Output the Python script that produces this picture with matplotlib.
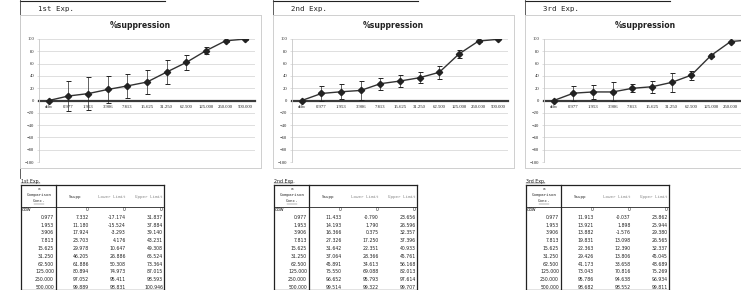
import matplotlib
matplotlib.use('Agg')
import matplotlib.pyplot as plt
from matplotlib.lines import Line2D

# ---- data ----
conc = ['ddw', '0.977', '1.953', '3.906', '7.813', '15.625', '31.250',
        '62.500', '125.000', '250.000', '500.000']
exp_names = ['1st Exp.', '2nd Exp.', '3rd Exp.']

supp_1 = [0, 7.332, 11.180, 17.924, 23.703, 29.978, 46.205, 61.886, 80.894, 97.052, 99.889]
low_1 = [0, -17.174, -15.524, -3.293, 4.176, 10.647, 26.886, 50.308, 74.973, 95.411, 98.831]
up_1 = [0, 31.837, 37.884, 39.140, 43.231, 49.308, 65.524, 73.364, 87.015, 98.593, 100.946]

supp_2 = [0, 11.433, 14.193, 16.366, 27.326, 31.642, 37.064, 45.891, 75.550, 96.652, 99.514]
low_2 = [0, -0.790, 1.790, 0.375, 17.250, 22.351, 28.366, 34.613, 69.088, 95.793, 99.322]
up_2 = [0, 23.656, 26.596, 32.357, 37.396, 40.933, 45.761, 56.168, 82.013, 97.614, 99.707]

supp_3 = [0, 11.913, 13.921, 13.882, 19.831, 22.363, 29.426, 41.173, 73.043, 95.786, 98.682]
low_3 = [0, -0.037, 1.898, -1.576, 13.098, 12.390, 13.806, 33.658, 70.816, 94.638, 98.552]
up_3 = [0, 23.862, 25.944, 29.380, 26.565, 32.337, 45.045, 48.689, 75.269, 96.934, 99.811]

supps = [supp_1, supp_2, supp_3]
lows = [low_1, low_2, low_3]
ups = [up_1, up_2, up_3]

W, H = 741, 290
fig = plt.figure(figsize=(W / 100, H / 100), dpi=100)
fig.patch.set_facecolor('white')


def fx(x):
    return x / W


def fy(y):
    return 1 - y / H


def hline(x0, x1, y, **kw):
    fig.add_artist(Line2D([fx(x0), fx(x1)], [fy(y), fy(y)], transform=fig.transFigure, **kw))


def vline(x, y0, y1, **kw):
    fig.add_artist(Line2D([fx(x), fx(x)], [fy(y0), fy(y1)], transform=fig.transFigure, **kw))


def fmt(v):
    return '0' if v == 0 else f'{v:.3f}'


offsets = [20, 273, 525]
mono = 'DejaVu Sans Mono'

for i, ox in enumerate(offsets):
    # header box
    hline(ox, ox + 145, 0.5, color='#222222', lw=0.8)
    vline(ox, 0, 178 if i == 0 else 15, color='#444444', lw=0.6)
    fig.text(fx(ox + 18), fy(9), exp_names[i], family=mono, fontsize=5.3,
             va='center', ha='left', color='#222222')

    # chart frame
    hline(ox, ox + 241, 15, color='#cfcfcf', lw=0.7)
    hline(ox, ox + 241, 168, color='#cfcfcf', lw=0.7)
    vline(ox, 15, 168, color='#cfcfcf', lw=0.7)
    vline(ox + 241, 15, 168, color='#cfcfcf', lw=0.7)
    fig.text(fx(ox + 120), fy(26), '%suppression', fontsize=5.6, fontweight='bold',
             ha='center', va='center', color='#222222')

    ax = fig.add_axes([fx(ox + 19), fy(162), 216 / W, 123 / H])
    ax.set_facecolor('none')
    x = list(range(len(conc)))
    s = supps[i]
    yerr = [[max(s[k] - lows[i][k], 0) for k in x], [max(ups[i][k] - s[k], 0) for k in x]]
    ax.errorbar(x, s, yerr=yerr, fmt='none', ecolor='#222222', elinewidth=0.5,
                capsize=1.8, capthick=0.7, zorder=3)
    ax.plot(x, s, color='#333333', lw=1.0, marker='D', ms=3.2,
            mfc='#222222', mec='#222222', zorder=4)
    ax.set_xlim(-0.5, len(conc) - 0.5)
    ax.set_ylim(-100, 100)
    ax.set_yticks(range(-100, 101, 20))
    ax.yaxis.grid(True, color='#d9d9d9', lw=0.6)
    ax.set_axisbelow(True)
    for sp in ['top', 'right']:
        ax.spines[sp].set_visible(False)
    ax.spines['left'].set_color('#c8c8c8')
    ax.spines['left'].set_linewidth(0.6)
    ax.spines['bottom'].set_position(('data', 0))
    ax.spines['bottom'].set_color('#3a3a3a')
    ax.spines['bottom'].set_linewidth(1.6)
    ax.spines['bottom'].set_zorder(2)
    ax.set_xticks(x)
    ax.set_xticklabels(conc, family='Liberation Serif', fontsize=3.4, color='#222222')
    ax.tick_params(axis='x', length=0, pad=3)
    ax.tick_params(axis='y', length=1.5, width=0.4, color='#c8c8c8', pad=2,
                   labelsize=3.3, labelcolor='#222222')
    for lab in ax.get_yticklabels():
        lab.set_family('Liberation Serif')

    # table
    tx = ox + 1
    fig.text(fx(tx), fy(181), exp_names[i], fontsize=3.4, ha='left', va='center',
             color='#222222')
    hline(tx, tx + 19, 183.3, color='#222222', lw=0.3)
    t0, hb, tb = 185, 207, 289.5
    hline(tx, tx + 143, t0, color='#222222', lw=0.9)
    hline(tx, tx + 143, tb, color='#222222', lw=0.9)
    hline(tx, tx + 143, hb, color='#222222', lw=0.6)
    vline(tx, t0, tb, color='#222222', lw=0.9)
    vline(tx + 143, t0, tb, color='#222222', lw=0.9)
    vline(tx + 35, t0, tb, color='#222222', lw=0.9)

    fig.text(fx(tx + 18), fy(189), 'a', family=mono, fontsize=3.1, ha='center',
             va='center', color='#333333')
    fig.text(fx(tx + 18), fy(195), 'Comparison', family=mono, fontsize=3.1,
             ha='center', va='center', color='#333333')
    fig.text(fx(tx + 18), fy(201.5), 'Conc.', family=mono, fontsize=3.1,
             ha='center', va='center', color='#333333')
    hline(tx + 13, tx + 23, 204, color='#555555', lw=0.3)
    fig.text(fx(tx + 54), fy(197), 'Ssupp', family=mono, fontsize=3.1,
             ha='center', va='center', color='#333333')
    fig.text(fx(tx + 91), fy(197), 'Lower Limit', family=mono, fontsize=3.1,
             ha='center', va='center', color='#8a8a8a')
    fig.text(fx(tx + 128), fy(197), 'Upper Limit', family=mono, fontsize=3.1,
             ha='center', va='center', color='#8a8a8a')

    for k, c in enumerate(conc):
        yy = 209.5 + k * 7.8
        if c == 'ddw':
            fig.text(fx(tx + 1), fy(yy), c, fontsize=3.3, ha='left', va='center',
                     color='#222222')
        else:
            fig.text(fx(tx + 33), fy(yy), c, fontsize=3.3, ha='right', va='center',
                     color='#222222')
        for col_r, vals in zip([68, 105, 142], [supps[i], lows[i], ups[i]]):
            fig.text(fx(tx + col_r), fy(yy), fmt(vals[k]), fontsize=3.3,
                     ha='right', va='center', color='#222222')

fig.savefig('out.png', dpi=100, facecolor='white')
